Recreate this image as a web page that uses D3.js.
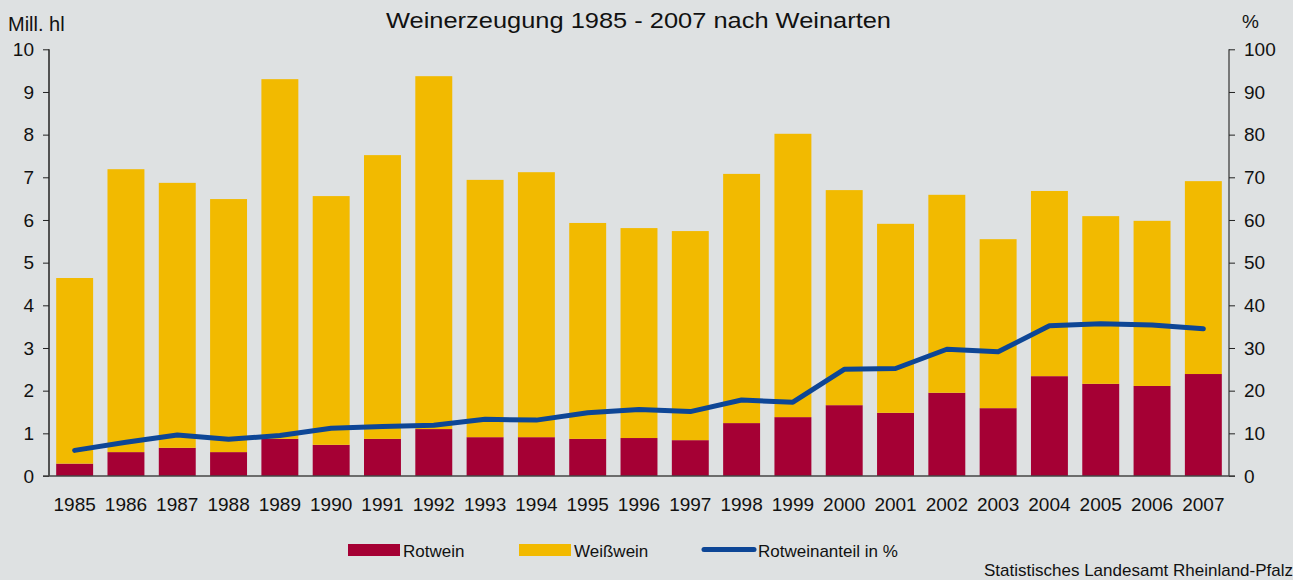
<!DOCTYPE html>
<html>
<head>
<meta charset="utf-8">
<script src="https://cdn.jsdelivr.net/npm/d3@7"></script>
<style>
  html, body { margin: 0; padding: 0; background: #dee1e2; }
  svg { display: block; font-family: "Liberation Sans", Arial, sans-serif; }
</style>
</head>
<body>
<svg id="chart" width="1293" height="580"></svg>
<script>
const years = ["1985","1986","1987","1988","1989","1990","1991","1992","1993","1994","1995","1996","1997","1998","1999","2000","2001","2002","2003","2004","2005","2006","2007"];
const rotwein = [0.29,0.56,0.66,0.56,0.87,0.73,0.87,1.10,0.91,0.91,0.87,0.89,0.84,1.24,1.38,1.66,1.48,1.95,1.59,2.34,2.16,2.11,2.39];
const weisswein = [4.35,6.63,6.21,5.93,8.43,5.83,6.65,8.27,6.03,6.21,5.06,4.92,4.90,5.84,6.64,5.04,4.43,4.64,3.96,4.34,3.93,3.87,4.52];
const rotAnteil = [6.0,7.9,9.6,8.6,9.5,11.2,11.6,11.9,13.3,13.1,14.8,15.6,15.1,17.8,17.3,25.0,25.2,29.7,29.1,35.2,35.7,35.4,34.5];
const leftTicks = [0,1,2,3,4,5,6,7,8,9,10];
const rightTicks = [0,10,20,30,40,50,60,70,80,90,100];
const seriesNames = ["Rotwein","Weißwein"];
const lineName = "Rotweinanteil in %";
const title = "Weinerzeugung 1985 - 2007 nach Weinarten";
const leftUnit = "Mill. hl";
const rightUnit = "%";
const source = "Statistisches Landesamt Rheinland-Pfalz";

const colors = { Rotwein: "#a50034", "Weißwein": "#f2ba00", line: "#0d4696" };

const svg = d3.select("#chart");
const x0 = 49, x1 = 1229, yTop = 49.3, yBot = 476;

const x = d3.scaleBand().domain(years).range([x0, x1]).paddingInner(0.28).paddingOuter(0.14);
const y = d3.scaleLinear().domain([0, 10]).range([yBot, yTop]);
const yR = d3.scaleLinear().domain([0, 100]).range([yBot, yTop]);

const table = years.map((yr, i) => ({ year: yr, Rotwein: rotwein[i], "Weißwein": weisswein[i] }));
const stacked = d3.stack().keys(seriesNames)(table);

svg.append("g").selectAll("g").data(stacked).join("g")
  .attr("fill", d => colors[d.key])
  .selectAll("rect").data(d => d).join("rect")
  .attr("x", d => x(d.data.year))
  .attr("width", x.bandwidth())
  .attr("y", d => y(d[1]))
  .attr("height", d => y(d[0]) - y(d[1]));

// line
const line = d3.line()
  .x((d, i) => x(years[i]) + x.bandwidth() / 2)
  .y(d => yR(d));
svg.append("path").datum(rotAnteil)
  .attr("fill", "none").attr("stroke", colors.line)
  .attr("stroke-width", 5).attr("stroke-linejoin", "round").attr("stroke-linecap", "round")
  .attr("d", line);

// axes
const gl = svg.append("g").attr("transform", `translate(${x0},0)`)
  .call(d3.axisLeft(y).tickValues(leftTicks).tickSize(6).tickPadding(9).tickFormat(d3.format("d")));
const gr = svg.append("g").attr("transform", `translate(${x1},0)`)
  .call(d3.axisRight(yR).tickValues(rightTicks).tickSize(6).tickPadding(9).tickFormat(d3.format("d")));
const gb = svg.append("g").attr("transform", `translate(0,${yBot})`)
  .call(d3.axisBottom(x).tickSize(0).tickPadding(22));

[gl, gr, gb].forEach(g => {
  g.selectAll("text").attr("fill", "#111").style("font-size", "19px").style("font-family", "Liberation Sans, Arial, sans-serif");
  g.selectAll("line").attr("stroke", "#222");
  g.select(".domain").attr("stroke", "#222").attr("stroke-width", 1.5);
});
gl.select(".domain").attr("d", `M-0,${yTop}V${yBot}`);
gr.select(".domain").attr("d", `M0,${yTop}V${yBot}`).attr("stroke", "#555");
gb.select(".domain").attr("d", `M${x0 - 6},0H${x1 + 6}`).attr("stroke", "#444");

// titles
svg.append("text").attr("x", 386).attr("y", 28).attr("font-size", 22).attr("fill", "#111")
  .attr("textLength", 505).attr("lengthAdjust", "spacingAndGlyphs").text(title);
svg.append("text").attr("x", 8).attr("y", 31).attr("font-size", 20).attr("fill", "#111").text(leftUnit);
svg.append("text").attr("x", 1242).attr("y", 28).attr("font-size", 19).attr("fill", "#111").text(rightUnit);

// legend
const legend = svg.append("g").attr("font-size", 17).attr("fill", "#111");
const legItems = [
  { name: seriesNames[0], type: "rect", color: colors.Rotwein, sx: 348, tx: 403 },
  { name: seriesNames[1], type: "rect", color: colors["Weißwein"], sx: 519, tx: 574 },
  { name: lineName, type: "line", color: colors.line, sx: 702, tx: 758 }
];
legItems.forEach(it => {
  if (it.type === "rect") {
    legend.append("rect").attr("x", it.sx).attr("y", 544).attr("width", 52).attr("height", 12).attr("fill", it.color);
  } else {
    legend.append("line").attr("x1", it.sx + 2).attr("x2", it.sx + 52).attr("y1", 549.5).attr("y2", 549.5)
      .attr("stroke", it.color).attr("stroke-width", 5).attr("stroke-linecap", "round");
  }
  legend.append("text").attr("x", it.tx).attr("y", 557).text(it.name);
});
svg.append("text").attr("x", 984).attr("y", 576).attr("font-size", 17).attr("fill", "#111").text(source);
</script>
</body>
</html>
